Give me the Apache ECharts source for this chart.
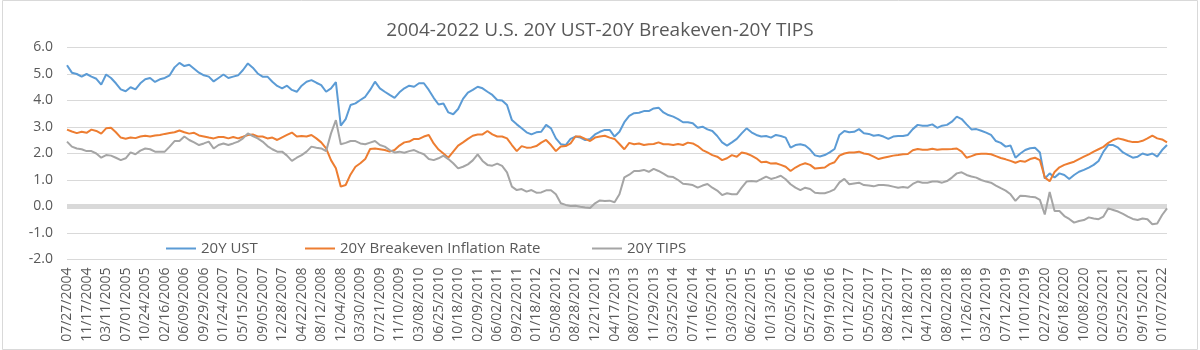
<!DOCTYPE html>
<html>
<head>
<meta charset="utf-8">
<script src="https://cdn.jsdelivr.net/npm/echarts@6/dist/echarts.min.js"></script>
<style>
  html, body { margin: 0; padding: 0; background: #ffffff; }
  #chart { width: 1200px; height: 350px; }
</style>
</head>
<body>
<div id="chart"></div>
<script>
// Tick labels (every 4th sample point)
const tickLabels = [
  "07/27/2004","11/17/2004","03/11/2005","07/01/2005","10/24/2005","02/16/2006","06/09/2006","09/29/2006",
  "01/24/2007","05/15/2007","09/05/2007","12/28/2007","04/22/2008","08/12/2008","12/04/2008","03/30/2009",
  "07/21/2009","11/10/2009","03/08/2010","06/25/2010","10/18/2010","02/09/2011","06/02/2011","09/22/2011",
  "01/18/2012","05/08/2012","08/28/2012","12/21/2012","04/17/2013","08/07/2013","11/29/2013","03/25/2014",
  "07/16/2014","11/05/2014","03/03/2015","06/22/2015","10/13/2015","02/05/2016","05/27/2016","09/19/2016",
  "01/12/2017","05/05/2017","08/25/2017","12/18/2017","04/12/2018","08/02/2018","11/26/2018","03/21/2019",
  "07/12/2019","11/01/2019","02/27/2020","06/18/2020","10/08/2020","02/03/2021","05/25/2021","09/15/2021",
  "01/07/2022"
];

const ust = [
  5.33,5.05,5.0,4.9,5.0,4.9,4.82,4.6,4.98,4.85,
  4.65,4.42,4.35,4.5,4.42,4.65,4.8,4.85,4.7,4.8,
  4.85,4.95,5.25,5.42,5.3,5.35,5.2,5.05,4.95,4.9,
  4.72,4.85,4.98,4.85,4.9,4.95,5.15,5.4,
  5.24,5.02,4.9,4.9,4.71,4.55,4.46,4.56,4.4,4.33,
  4.56,4.71,4.77,4.67,4.58,4.33,4.46,4.69,3.05,3.3,
  3.83,3.89,4.02,4.14,4.4,4.71,4.46,4.33,4.21,4.1,
  4.31,4.46,4.56,4.52,4.65,4.65,4.4,4.1,3.85,
  3.89,3.55,3.48,3.68,4.06,4.3,4.4,4.52,4.46,4.33,
  4.21,4.02,4.0,3.83,3.26,3.1,2.95,2.8,2.72,2.8,
  2.82,3.08,2.95,2.57,2.35,2.32,2.55,2.64,2.6,2.51,
  2.55,2.72,2.82,2.89,2.89,2.64,2.82,3.18,3.42,
  3.52,3.54,3.6,3.6,3.7,3.73,3.55,3.45,3.39,3.3,
  3.18,3.18,3.14,2.97,3.01,2.91,2.85,2.66,2.42,2.3,
  2.42,2.55,2.76,2.95,2.8,2.7,2.64,2.66,2.6,2.7,
  2.66,2.6,2.22,2.32,2.35,2.3,2.15,1.93,1.89,
  1.94,2.04,2.17,2.7,2.85,2.8,2.82,2.92,2.76,2.74,
  2.67,2.7,2.64,2.55,2.64,2.66,2.66,2.7,2.92,3.08,
  3.05,3.05,3.1,2.97,3.05,3.08,3.2,3.39,3.3,3.1,
  2.91,2.92,2.86,2.79,2.7,2.47,2.4,2.26,
  2.3,1.84,2.0,2.13,2.2,2.22,2.04,1.05,1.25,1.09,
  1.25,1.19,1.04,1.19,1.31,1.38,1.47,1.57,1.72,2.07,
  2.32,2.32,2.22,2.04,1.94,1.84,1.88,2.0,1.94,2.0,
  1.88,2.13,2.32
];

const breakeven = [
  2.9,2.83,2.77,2.82,2.78,2.9,2.85,2.75,2.95,2.97,
  2.8,2.6,2.56,2.6,2.58,2.64,2.67,2.64,2.68,2.7,
  2.74,2.77,2.8,2.87,2.8,2.75,2.78,2.68,2.64,2.6,
  2.57,2.62,2.62,2.57,2.62,2.57,2.63,2.7,
  2.72,2.64,2.64,2.57,2.6,2.51,2.61,2.7,2.79,2.64,
  2.66,2.64,2.7,2.57,2.42,2.19,1.75,1.44,0.75,0.81,
  1.21,1.5,1.63,1.79,2.17,2.19,2.16,2.13,2.07,2.13,
  2.3,2.42,2.45,2.55,2.55,2.64,2.7,2.38,2.15,
  2.0,1.84,2.07,2.3,2.42,2.55,2.67,2.72,2.72,2.85,
  2.72,2.64,2.64,2.57,2.32,2.09,2.28,2.22,2.23,2.28,
  2.41,2.51,2.32,2.09,2.26,2.28,2.38,2.64,2.64,2.55,
  2.47,2.6,2.64,2.67,2.6,2.55,2.36,2.16,2.4,
  2.35,2.38,2.32,2.35,2.36,2.42,2.35,2.35,2.32,2.36,
  2.32,2.41,2.38,2.28,2.13,2.04,1.94,1.88,1.75,1.82,
  1.94,1.88,2.04,2.0,1.92,1.82,1.67,1.69,1.62,1.63,
  1.57,1.5,1.34,1.47,1.57,1.63,1.57,1.43,1.45,
  1.47,1.6,1.67,1.92,2.0,2.04,2.04,2.07,2.0,1.97,
  1.88,1.79,1.84,1.88,1.92,1.94,1.97,1.98,2.12,2.17,
  2.14,2.14,2.18,2.14,2.16,2.16,2.17,2.19,2.07,1.84,
  1.9,1.97,1.99,1.99,1.97,1.9,1.83,1.78,
  1.72,1.65,1.72,1.69,1.79,1.84,1.75,1.1,0.95,1.3,
  1.48,1.57,1.63,1.69,1.79,1.88,1.97,2.07,2.16,2.25,
  2.4,2.51,2.57,2.53,2.47,2.43,2.43,2.48,2.57,2.67,
  2.57,2.53,2.42
];

const tips = [
  2.45,2.26,2.19,2.16,2.09,2.09,2.0,1.84,1.94,1.92,
  1.84,1.75,1.82,2.04,1.97,2.11,2.19,2.16,2.07,2.07,
  2.07,2.26,2.47,2.47,2.64,2.51,2.42,2.32,2.38,2.45,
  2.19,2.32,2.38,2.32,2.38,2.45,2.57,2.76,
  2.66,2.57,2.45,2.28,2.16,2.07,2.07,1.92,1.72,1.84,
  1.94,2.07,2.26,2.22,2.19,2.09,2.76,3.26,2.35,2.4,
  2.47,2.47,2.38,2.35,2.41,2.47,2.32,2.26,2.13,2.04,
  2.07,2.03,2.09,2.13,2.04,1.97,1.79,1.75,1.82,
  1.92,1.79,1.63,1.44,1.5,1.59,1.74,1.97,1.72,1.57,
  1.54,1.62,1.53,1.29,0.75,0.62,0.66,0.56,0.62,0.52,
  0.53,0.61,0.61,0.46,0.12,0.06,0.02,0.03,-0.01,-0.04,
  -0.06,0.12,0.23,0.21,0.22,0.16,0.46,1.1,1.2,
  1.34,1.34,1.38,1.31,1.42,1.34,1.24,1.13,1.11,1.0,
  0.86,0.84,0.81,0.71,0.79,0.85,0.71,0.6,0.43,0.5,
  0.46,0.46,0.71,0.94,0.96,0.94,1.03,1.13,1.04,1.09,
  1.16,1.03,0.84,0.71,0.62,0.71,0.66,0.52,0.5,
  0.5,0.56,0.65,0.91,1.04,0.84,0.87,0.9,0.81,0.79,
  0.76,0.81,0.81,0.79,0.75,0.71,0.74,0.71,0.85,0.94,
  0.9,0.9,0.94,0.94,0.9,0.96,1.09,1.25,1.29,1.19,
  1.13,1.09,1.0,0.94,0.9,0.79,0.69,0.6,
  0.46,0.21,0.41,0.4,0.37,0.35,0.25,-0.3,0.55,-0.17,
  -0.17,-0.36,-0.47,-0.61,-0.55,-0.51,-0.41,-0.45,-0.48,-0.38,
  -0.07,-0.13,-0.19,-0.28,-0.38,-0.47,-0.51,-0.45,-0.48,-0.67,
  -0.64,-0.32,-0.07
];

const seriesNames = ["20Y UST", "20Y Breakeven Inflation Rate", "20Y TIPS"];
const seriesColors = ["#5b9bd5", "#ed7d31", "#a5a5a5"];
const labelStep = 4;

const categories = ust.map((_, i) => i);
const FONT = "'Open Sans', 'Noto Sans', sans-serif";
const TXT = "#595959";

const chart = echarts.init(document.getElementById('chart'), null, { renderer: 'canvas' });

function legendAt(left, idx) {
  return {
    left: left, top: 236,
    icon: 'rect',
    itemWidth: 30, itemHeight: 2,
    data: [{ name: seriesNames[idx], icon: 'rect' }],
    textStyle: { fontFamily: FONT, fontSize: 15, color: TXT },
    selectedMode: false
  };
}

const option = {
  backgroundColor: '#ffffff',
  animation: false,
  title: {
    text: '2004-2022 U.S. 20Y UST-20Y Breakeven-20Y TIPS',
    left: 'center', top: 16,
    textStyle: { fontFamily: FONT, fontSize: 19, fontWeight: 'normal', color: TXT }
  },
  legend: [legendAt(161, 0), legendAt(300, 1), legendAt(587, 2)],
  grid: { left: 67, right: 33, top: 47.5, bottom: 90.5, containLabel: false },
  xAxis: {
    type: 'category',
    data: categories,
    boundaryGap: false,
    axisLine: { show: false },
    axisTick: { show: false },
    splitLine: { show: false },
    axisLabel: {
      interval: labelStep - 1,
      rotate: 90,
      margin: 8,
      fontFamily: FONT, fontSize: 14, color: TXT,
      formatter: function (v, i) {
        const k = Number(v);
        return (k % labelStep === 0 && tickLabels[k / labelStep]) ? tickLabels[k / labelStep] : '';
      }
    }
  },
  yAxis: {
    type: 'value',
    min: -2, max: 6, interval: 1,
    axisLine: { show: false },
    axisTick: { show: false },
    splitLine: { lineStyle: { color: '#d9d9d9', width: 1 } },
    axisLabel: {
      margin: 14,
      fontFamily: FONT, fontSize: 14, color: TXT,
      formatter: v => v.toFixed(1)
    }
  },
  graphic: [{
    type: 'rect',
    shape: { x: 2.5, y: 0.5, width: 1195, height: 349 },
    style: { fill: 'none', stroke: '#d9d9d9', lineWidth: 1 },
    silent: true, z: -10
  }],
  series: [
    {
      name: 'zero', type: 'line', data: [], silent: true, z: 1,
      markLine: {
        silent: true, symbol: ['none', 'none'],
        label: { show: false },
        lineStyle: { color: '#d9d9d9', width: 5, type: 'solid' },
        data: [{ yAxis: 0 }]
      }
    },
    ...[ust, breakeven, tips].map((d, i) => ({
      name: seriesNames[i],
      type: 'line',
      data: d,
      z: 3 + i,
      symbol: 'none',
      showSymbol: false,
      color: seriesColors[i],
      itemStyle: { color: seriesColors[i] },
      lineStyle: { width: 2, color: seriesColors[i] },
      emphasis: { disabled: true }
    }))
  ]
};
chart.setOption(option);
</script>
</body>
</html>
